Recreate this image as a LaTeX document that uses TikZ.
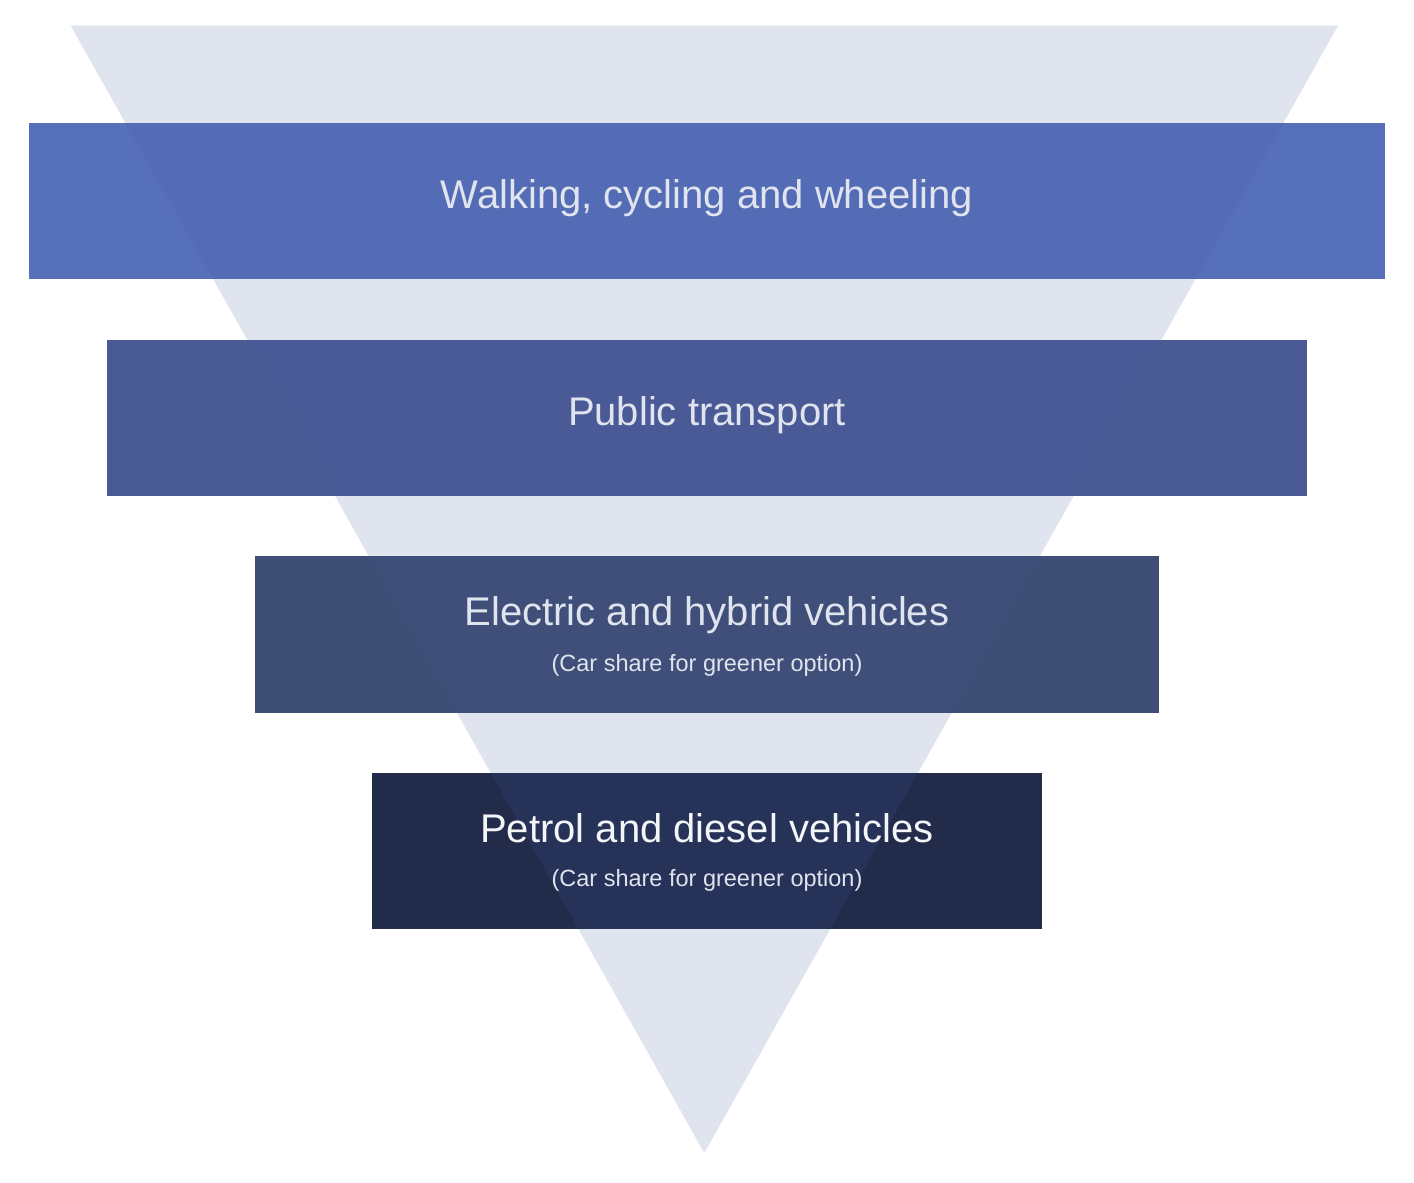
\documentclass[tikz,border=0pt]{standalone}
\usepackage{fontspec}
\setmainfont{Liberation Sans}
\definecolor{tri}{HTML}{E0E4EE}
\definecolor{barA}{HTML}{5770BC}
\definecolor{barAin}{HTML}{536CB5}
\definecolor{barB}{HTML}{4A5A95}
\definecolor{barBin}{HTML}{4A5A96}
\definecolor{barC}{HTML}{3E4E75}
\definecolor{barCin}{HTML}{3F4F79}
\definecolor{barD}{HTML}{222C4A}
\definecolor{barDin}{HTML}{263257}
\definecolor{txt}{HTML}{E0E4EE}
\definecolor{txtw}{HTML}{F3F5F9}
\tikzset{
  title/.style={anchor=base, inner sep=0pt, text=txt, font=\fontsize{40}{48}\selectfont},
  subtitle/.style={anchor=base, inner sep=0pt, text=txt, font=\fontsize{23.5}{28}\selectfont},
}
\begin{document}
\begin{tikzpicture}[x=1pt,y=-1pt]
\useasboundingbox (0,0) rectangle (1414,1183);
\fill[white] (0,0) rectangle (1414,1183);
% funnel triangle
\fill[tri] (70.7,25.7) -- (1338,25.7) -- (704.3,1153) -- cycle;
% bars
\fill[barA] (29,122.5) rectangle (1385,279);
\fill[barB] (107.3,339.5) rectangle (1306.7,495.7);
\fill[barC] (255,556) rectangle (1159,712.7);
\fill[barD] (371.7,773.3) rectangle (1042,929.3);
\begin{scope}
\clip (70.7,25.7) -- (1338,25.7) -- (704.3,1153) -- cycle;
\fill[barAin] (29,122.5) rectangle (1385,279);
\fill[barBin] (107.3,339.5) rectangle (1306.7,495.7);
\fill[barCin] (255,556) rectangle (1159,712.7);
\fill[barDin] (371.7,773.3) rectangle (1042,929.3);
\end{scope}
% texts
\node[title] (t1) at (707,208) {Walking, cycling and wheeling};
\node[title] (t2) at (707,425) {Public transport};
\node[title] (t3) at (707,625) {Electric and hybrid vehicles};
\node[subtitle] (s3) at (707,671) {(Car share for greener option)};
\node[title, text=txtw] (t4) at (707,842) {Petrol and diesel vehicles};
\node[subtitle] (s4) at (707,886) {(Car share for greener option)};
\end{tikzpicture}
\end{document}
